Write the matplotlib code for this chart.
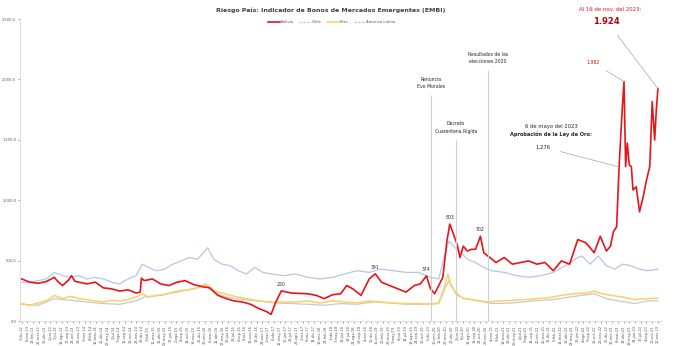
import numpy as np
import pandas as pd
from matplotlib import pyplot as plt
from matplotlib.lines import Line2D

# Datos (obs = numero de observacion, puntos basicos)
obs_bol = [0, 20, 40, 60, 80, 88, 100, 115, 122, 130, 140, 160, 180, 200, 220, 240, 260, 280, 290, 293,
           300, 320, 340, 360, 380, 400, 420, 440, 460, 480, 500, 520, 540, 560, 580, 600, 610, 620, 635,
           660, 700, 720, 740, 760, 780, 795, 810, 830, 850, 865, 880, 900, 920, 940, 960, 975, 990, 1000,
           1010, 1020, 1030, 1040, 1047, 1055, 1065, 1072, 1080, 1090, 1100, 1110, 1122, 1130, 1140, 1160,
           1180, 1200, 1220, 1240, 1260, 1280, 1300, 1320, 1340, 1360, 1380, 1400, 1415, 1430, 1440, 1447,
           1455, 1461, 1469, 1473, 1477, 1481, 1486, 1491, 1495, 1503, 1511, 1520, 1528, 1536, 1542, 1548,
           1552, 1556]
bolivia = [349, 322, 313, 327, 362, 330, 294, 340, 376, 330, 322, 308, 322, 275, 267, 248, 259, 232, 240, 355,
           335, 349, 308, 294, 322, 335, 303, 286, 275, 213, 186, 167, 158, 139, 104, 77, 55, 145, 250,
           232, 226, 213, 186, 218, 226, 294, 267, 213, 349, 391, 322, 294, 267, 240, 294, 308, 374, 267,
           226, 294, 362, 662, 803, 730, 634, 526, 620, 580, 594, 594, 702, 566, 539, 485,
           526, 471, 485, 498, 471, 485, 417, 498, 471, 675, 648, 566, 702, 580, 620, 740,
           780, 1276, 1774, 1982, 1278, 1473, 1292, 1278, 1085, 1112, 905, 1029, 1167, 1278, 1816, 1499,
           1747, 1924]

obs_lat = [0, 20, 40, 60, 80, 100, 120, 140, 160, 180, 200, 220, 240, 260, 280, 295, 310, 330, 350, 370,
           390, 410, 430, 445, 455, 470, 490, 510, 530, 550, 570, 590, 610, 640, 670, 700, 730, 760, 790,
           820, 850, 880, 910, 940, 970, 1000, 1020, 1035, 1045, 1060, 1075, 1090, 1110, 1130, 1150, 1180,
           1210, 1240, 1270, 1300, 1330, 1360, 1370, 1390, 1410, 1430, 1450, 1470, 1490, 1510, 1530, 1556]
america_latina = [320, 322, 335, 349, 403, 376, 362, 376, 349, 362, 349, 322, 308, 349, 376, 471, 444, 417, 430, 471,
                  498, 526, 512, 566, 607, 512, 471, 458, 417, 390, 444, 403, 390, 376, 390, 362, 349, 362, 390,
                  417, 403, 430, 417, 403, 403, 362, 349, 553, 662, 607, 566, 512, 485, 444, 417, 403,
                  376, 362, 376, 403, 458, 526, 539, 471, 539, 458, 430, 471, 458, 430, 417, 430]

obs_per = [0, 20, 40, 60, 80, 100, 120, 140, 160, 180, 200, 220, 240, 260, 280, 295, 310, 330, 350, 370,
           390, 410, 430, 450, 470, 490, 510, 530, 550, 580, 610, 640, 670, 700, 730, 760, 790, 820, 850,
           880, 910, 940, 970, 1000, 1020, 1035, 1042, 1050, 1065, 1085, 1110, 1140, 1170, 1200, 1230, 1260,
           1290, 1320, 1350, 1380, 1400, 1420, 1440, 1470, 1500, 1530, 1556]
peru = [145, 131, 150, 167, 213, 186, 205, 186, 178, 167, 158, 172, 167, 178, 199, 226, 199, 213, 221, 240,
        254, 259, 275, 308, 254, 232, 213, 199, 186, 167, 158, 158, 158, 167, 150, 167, 158, 150, 167,
        158, 150, 145, 145, 139, 145, 294, 390, 294, 213, 186, 172, 158, 167, 172, 178, 186,
        194, 213, 226, 232, 248, 226, 213, 199, 178, 186, 191]

obs_chi = [0, 40, 80, 120, 160, 200, 240, 280, 300, 340, 380, 420, 450, 470, 500, 540, 580, 620, 660, 700,
           740, 780, 820, 860, 900, 940, 980, 1020, 1035, 1045, 1060, 1080, 1110, 1150, 1200, 1250, 1300,
           1340, 1370, 1400, 1430, 1460, 1500, 1530, 1556]
chile = [139, 131, 186, 172, 158, 145, 139, 167, 199, 213, 240, 267, 294, 240, 199, 178, 167, 150, 145, 139,
         131, 145, 139, 158, 150, 139, 139, 150, 267, 335, 240, 186, 172, 145, 150, 167, 178,
         199, 213, 226, 186, 167, 145, 167, 167]

meses = ['ene', 'feb', 'mar', 'abr', 'may', 'jun', 'jul', 'ago', 'sep', 'oct', 'nov', 'dic']
fechas_ticks = pd.date_range('2012-12-03', '2023-11-16', periods=112)
ticks_x = np.linspace(0, 1556, 112)
etiquetas_x = [f"{d.day}-{meses[d.month - 1]}-{d.year % 100:02d}" for d in fechas_ticks]

c_bol = '#e8141c'
c_chi = '#c8c8c8'
c_per = '#fcd066'
c_lat = '#b4c7e7'

fig = plt.figure(figsize=(6.79, 3.46), dpi=100)
ax = fig.add_axes([0.03, 0.072, 0.945, 0.873])

ax.plot(obs_lat, america_latina, color=c_lat, lw=0.9, label='America Latina')
ax.plot(obs_chi, chile, color=c_chi, lw=0.9, label='Chile')
ax.plot(obs_per, peru, color=c_per, lw=1.1, label='Perú')
ax.plot(obs_bol, bolivia, color=c_bol, lw=1.2, label='Bolivia')

ax.set_ylim(0, 2500)
ax.set_xlim(-3, 1566)
ax.set_yticks([0, 500, 1000, 1500, 2000, 2500])
ax.set_yticklabels(['0,0', '500,0', '1.000,0', '1.500,0', '2.000,0', '2.500,0'])
ax.set_xticks(ticks_x)
ax.set_xticklabels(etiquetas_x, rotation=90)
ax.tick_params(axis='both', labelsize=2.6, colors='#595959', length=1.5, width=0.4, pad=1.5)
for s in ['top', 'right']:
  ax.spines[s].set_visible(False)
for s in ['left', 'bottom']:
  ax.spines[s].set_color('#d9d9d9')
  ax.spines[s].set_linewidth(0.6)

# eventos
eventos = [(1001, 1870, 'Renuncia\nEvo Morales'),
           (1062, 1500, 'Decreto\nCuarentena Rígida'),
           (1140, 2080, 'Resultados de las\nelecciones 2020')]
for x, top, txt in eventos:
  ax.vlines(x, 0, top, color='#d0d0d0', lw=0.8)
  ax.text(x, top + 50, txt, fontsize=3.3, ha='center', va='bottom', color='#262626', linespacing=1.5)

# valores destacados
for x, v in [(1047, 803), (1122, 702), (635, 250), (865, 391), (990, 374)]:
  i = obs_bol.index(x)
  ax.annotate(str(bolivia[i]), (x, bolivia[i]), xytext=(0, 3), textcoords='offset points',
              fontsize=3.3, ha='center', va='bottom', color='#262626')

ax.text(1295, 1610, '6 de mayo del 2023', fontsize=3.8, ha='center', va='center', color='#262626')
ax.text(1295, 1545, 'Aprobación de la Ley de Oro:', fontsize=3.6, ha='center', va='center',
        fontweight='bold', color='#262626')
ax.annotate('1.276', (1461, 1276), xytext=(1276, 1440), fontsize=3.8, ha='center', va='center',
            color='#262626', arrowprops=dict(arrowstyle='-', color='#a6a6a6', lw=0.5, shrinkA=5, shrinkB=0))
ax.annotate('1.982', (1473, 1982), xytext=(1397, 2140), fontsize=3.3, ha='center', va='center',
            color=c_bol, arrowprops=dict(arrowstyle='-', color='#a6a6a6', lw=0.5, shrinkA=4, shrinkB=0))
ax.annotate('1.924', (1556, 1924), xytext=(1431, 2480), fontsize=6, ha='center', va='center',
            fontweight='bold', color='#c00000', annotation_clip=False,
            arrowprops=dict(arrowstyle='-', color='#a6a6a6', lw=0.5, shrinkA=6, shrinkB=0))
ax.text(1439, 2575, 'Al 16 de nov. del 2023:', fontsize=3.9, ha='center', va='center', color=c_bol,
        clip_on=False)

fig.text(0.487, 0.971, 'Riesgo País: Indicador de Bonos de Mercados Emergentes (EMBI)', fontsize=4.5,
         fontweight='bold', ha='center', va='center', color='#404040')
handles = [Line2D([], [], color=c_bol, lw=1.2),
           Line2D([], [], color=c_chi, lw=0.9, ls=(0, (2, 1))),
           Line2D([], [], color=c_per, lw=1.1),
           Line2D([], [], color=c_lat, lw=0.9, ls=(0, (2, 1)))]
fig.legend(handles, ['Bolivia', 'Chile', 'Perú', 'America Latina'], loc='center',
           bbox_to_anchor=(0.489, 0.936), ncol=4, fontsize=2.8, frameon=False, handlelength=3.0,
           handletextpad=0.3, columnspacing=1.3, labelcolor='#595959')

plt.savefig('out.png', dpi=100)
